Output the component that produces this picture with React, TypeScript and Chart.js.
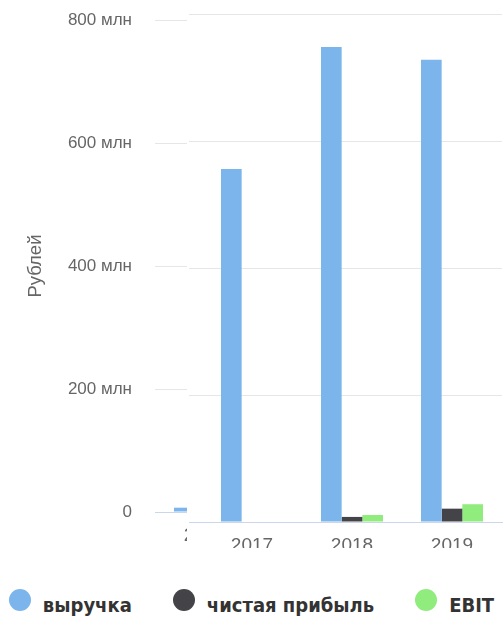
import React, { useEffect, useRef } from "react";
import { Chart, registerables } from "chart.js";

Chart.register(...registerables);

const years = ["2016", "2017", "2018", "2019"];
const revenue = [7, 556, 748, 728];
const netProfit = [0, 0, 8, 21];
const ebit = [0, 0, 11, 28];
const yMin = 0;
const yMax = 800;
const yStep = 200;
const seriesNames = ["выручка", "чистая прибыль", "EBIT"];
const seriesColors = ["#7cb5ec", "#434348", "#90ed7d"];
const yTitle = "Рублей";
const unit = "млн";

const FONT = '"Liberation Sans", Arial, sans-serif';
const LEGEND_FONT = '"DejaVu Sans Condensed", "DejaVu Sans", sans-serif';

function makeDatasets() {
  const values = [revenue, netProfit, ebit];
  return seriesNames.map((name, i) => ({
    label: name,
    data: values[i],
    backgroundColor: seriesColors[i],
    borderWidth: 0,
    categoryPercentage: 0.62,
    barPercentage: 1,
  }));
}

function gridColor(ctx: any) {
  return ctx.tick && ctx.tick.value === 0 ? "rgba(0,0,0,0)" : "#e6e6e6";
}

export default function App() {
  const leftRef = useRef<HTMLCanvasElement>(null);
  const rightRef = useRef<HTMLCanvasElement>(null);

  useEffect(() => {
    const left = new Chart(leftRef.current!, {
      type: "bar",
      data: { labels: years, datasets: makeDatasets() },
      options: {
        responsive: false,
        animation: false,
        layout: { padding: { top: 20, left: 0, right: 5, bottom: 0 } },
        plugins: { legend: { display: false }, tooltip: { enabled: false } },
        scales: {
          x: {
            grid: { display: false, drawTicks: false },
            border: { display: true, color: "#ccd6eb", width: 1 },
            ticks: { color: "#666666", font: { family: FONT, size: 19 }, padding: 12 },
            afterFit: (s: any) => {
              s.height = 44;
              s.paddingLeft = 0;
              s.paddingRight = 0;
            },
          },
          y: {
            min: yMin,
            max: yMax,
            ticks: {
              stepSize: yStep,
              color: "#666666",
              font: { family: FONT, size: 17 },
              padding: 23,
              callback: (v: any) => (v === 0 ? "0" : `${v} ${unit}`),
            },
            grid: { color: gridColor, drawTicks: false },
            border: { display: false },
            title: {
              display: true,
              text: yTitle,
              color: "#666666",
              font: { family: FONT, size: 18.5 },
              padding: { top: 25, bottom: 0 },
            },
            afterFit: (s: any) => {
              s.width = 155;
              s.paddingTop = 0;
              s.paddingBottom = 0;
            },
          },
        },
      },
    } as any);

    const right = new Chart(rightRef.current!, {
      type: "bar",
      data: { labels: years, datasets: makeDatasets() },
      options: {
        responsive: false,
        animation: false,
        layout: { padding: { top: 14, left: 15, right: 5, bottom: 0 } },
        plugins: { legend: { display: false }, tooltip: { enabled: false } },
        scales: {
          x: {
            grid: { display: false, drawTicks: false },
            border: { display: true, color: "#ccd6eb", width: 1 },
            ticks: { color: "#666666", font: { family: FONT, size: 19 }, padding: 12 },
            afterFit: (s: any) => {
              s.height = 40;
              s.paddingLeft = 0;
              s.paddingRight = 0;
            },
          },
          y: {
            min: yMin,
            max: yMax,
            ticks: { stepSize: yStep, display: false },
            grid: { color: gridColor, drawTicks: false },
            border: { display: false },
            afterFit: (s: any) => {
              s.width = 0;
              s.paddingTop = 0;
              s.paddingBottom = 0;
            },
          },
        },
      },
    } as any);

    return () => {
      left.destroy();
      right.destroy();
    };
  }, []);

  return (
    <div
      style={{
        position: "fixed",
        left: 0,
        top: 0,
        width: 503,
        height: 622,
        overflow: "hidden",
        background: "#ffffff",
      }}
    >
      <div style={{ position: "absolute", left: 0, top: 0, width: 560, height: 556 }}>
        <canvas ref={leftRef} width={560} height={556} style={{ display: "block" }} />
      </div>
      <div
        style={{
          position: "absolute",
          left: 187,
          top: 0,
          width: 316,
          height: 548,
          background: "#ffffff",
        }}
      >
        <div
          style={{
            position: "absolute",
            left: 2,
            top: 0,
            width: 314,
            height: 548,
            overflow: "hidden",
          }}
        >
          <div style={{ position: "absolute", left: -102, top: 0, width: 420, height: 562 }}>
            <canvas ref={rightRef} width={420} height={562} style={{ display: "block" }} />
          </div>
        </div>
      </div>
      <div
        style={{
          position: "absolute",
          left: 0,
          top: 589,
          width: 503,
          height: 22,
          display: "flex",
          justifyContent: "center",
          alignItems: "center",
          gap: 41,
        }}
      >
        {seriesNames.map((n, i) => (
          <div key={n} style={{ display: "flex", alignItems: "center", height: 22 }}>
            <span
              style={{
                display: "inline-block",
                width: 22,
                height: 22,
                borderRadius: "50%",
                background: seriesColors[i],
                marginRight: 12,
                flex: "none",
              }}
            />
            <span
              style={{
                fontFamily: LEGEND_FONT,
                fontWeight: "bold",
                fontSize: 20,
                lineHeight: "22px",
                color: "#333333",
                position: "relative",
                top: 5,
                whiteSpace: "nowrap",
              }}
            >
              {n}
            </span>
          </div>
        ))}
      </div>
    </div>
  );
}
